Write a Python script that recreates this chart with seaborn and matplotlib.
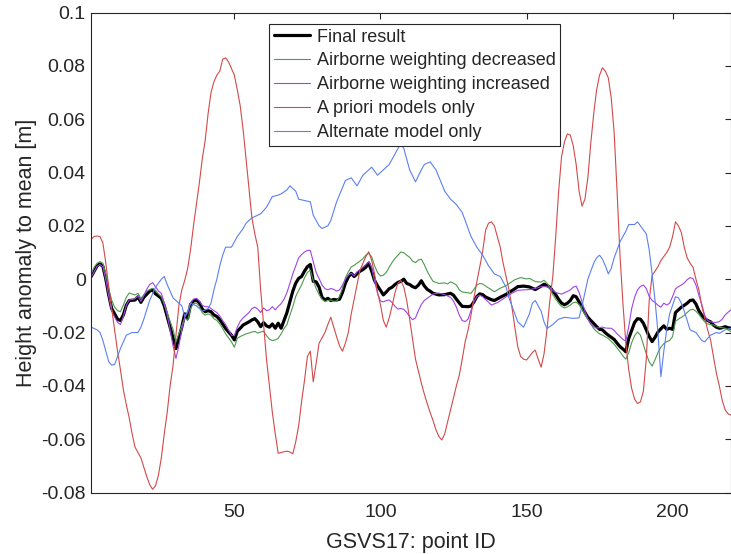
import matplotlib
matplotlib.use("Agg")
import matplotlib.pyplot as plt
import seaborn as sns
import pandas as pd

# ---- data: GSVS17 height anomalies relative to the mean [m] ----
final_pid = [1, 2, 3, 4, 5, 6, 7, 8, 9, 10, 11, 12, 13, 14, 16, 17, 18, 19, 21, 22, 23, 24, 25, 26, 27, 28, 29, 30,
             31, 32, 33, 34, 35, 36, 37, 38, 39, 40, 41, 42, 43, 44, 45, 46, 47, 48, 49, 50, 51, 52, 53, 54, 55, 56,
             57, 58, 59, 60, 61, 62, 63, 64, 65, 66, 67, 68, 69, 70, 71, 72, 73, 74, 75, 76, 77, 78, 79, 80, 81, 82,
             83, 84, 85, 86, 87, 88, 89, 90, 91, 92, 93, 94, 95, 96, 97, 98, 99, 100, 101, 102, 103, 104, 105, 106,
             107, 108, 109, 110, 111, 112, 113, 114, 115, 116, 117, 118, 120, 122, 124, 125, 126, 127, 128, 130, 131,
             132, 133, 134, 135, 136, 138, 139, 141, 143, 144, 146, 147, 149, 151, 153, 155, 156, 157, 158, 159, 160,
             161, 162, 163, 164, 165, 166, 167, 168, 169, 170, 171, 172, 173, 174, 175, 176, 177, 178, 179, 180, 181,
             182, 183, 184, 185, 186, 187, 188, 189, 190, 191, 192, 193, 194, 195, 196, 197, 198, 199, 200, 201, 202,
             203, 204, 205, 206, 207, 208, 209, 210, 211, 212, 213, 214, 215, 216, 217, 218, 219, 220]
final_val = [0.001, 0.003, 0.005, 0.0057, 0.0048, 0.0, -0.006, -0.011, -0.013, -0.015, -0.0155, -0.0134, -0.0098,
             -0.008, -0.0078, -0.0066, -0.0087, -0.0068, -0.0045, -0.004, -0.0055, -0.0063, -0.0072, -0.010, -0.014,
             -0.018, -0.022, -0.026, -0.022, -0.018, -0.013, -0.0147, -0.0095, -0.0082, -0.0078, -0.0088, -0.0112,
             -0.0122, -0.0118, -0.0122, -0.0134, -0.014, -0.0152, -0.0168, -0.0185, -0.0198, -0.021, -0.0228, -0.0195,
             -0.0184, -0.0172, -0.0166, -0.016, -0.0153, -0.0148, -0.016, -0.0178, -0.0163, -0.0175, -0.018, -0.0168,
             -0.0184, -0.0165, -0.0184, -0.0155, -0.0125, -0.0085, -0.0045, -0.0015, 0.0003, 0.001, 0.003, 0.0047,
             0.0055, -0.0008, -0.001, -0.003, -0.0068, -0.0078, -0.0072, -0.008, -0.0076, -0.0078, -0.0075, -0.005,
             -0.0015, 0.0008, 0.0022, 0.001, 0.002, 0.003, 0.0036, 0.0045, 0.006, 0.003, -0.0005, -0.0025, -0.0042,
             -0.0059, -0.0048, -0.0036, -0.003, -0.002, -0.0012, -0.0008, 0.0, -0.0016, -0.002, -0.0028, -0.0032,
             -0.0022, -0.0006, -0.0025, -0.0038, -0.0045, -0.0053, -0.0059, -0.0058, -0.0053, -0.006, -0.0075, -0.0089,
             -0.0102, -0.0103, -0.0101, -0.0085, -0.0065, -0.0055, -0.0058, -0.0067, -0.0077, -0.008, -0.0068, -0.0057,
             -0.005, -0.0036, -0.0028, -0.0026, -0.0029, -0.0039, -0.0026, -0.0019, -0.0024, -0.003, -0.0045, -0.0058,
             -0.0076, -0.009, -0.0096, -0.009, -0.008, -0.0062, -0.0066, -0.0085, -0.0105, -0.0125, -0.0143, -0.0155,
             -0.0166, -0.0178, -0.0188, -0.019, -0.0201, -0.021, -0.0218, -0.0226, -0.024, -0.0253, -0.0262, -0.0272,
             -0.0222, -0.0192, -0.0162, -0.0148, -0.015, -0.0165, -0.019, -0.0215, -0.0234, -0.0218, -0.0198, -0.0186,
             -0.0175, -0.0188, -0.0184, -0.0188, -0.0125, -0.0115, -0.0105, -0.0098, -0.009, -0.008, -0.0078, -0.0093,
             -0.0118, -0.0135, -0.0148, -0.0155, -0.016, -0.0172, -0.018, -0.0184, -0.0182, -0.0178, -0.0182, -0.0184]

decr_pid = [1, 2, 3, 4, 5, 6, 7, 8, 9, 10, 11, 12, 13, 14, 16, 17, 18, 19, 20, 22, 23, 24, 25, 26, 27, 28, 29, 30, 31,
            32, 33, 34, 35, 36, 37, 38, 39, 40, 41, 42, 43, 44, 45, 46, 47, 48, 49, 50, 51, 52, 53, 54, 55, 56, 57, 58,
            59, 60, 61, 62, 63, 64, 65, 66, 67, 68, 69, 70, 71, 72, 73, 74, 75, 76, 77, 78, 79, 80, 81, 82, 83, 84, 85,
            86, 87, 88, 89, 90, 91, 92, 93, 94, 95, 96, 97, 98, 99, 100, 101, 102, 103, 104, 105, 106, 107, 108, 109,
            110, 111, 112, 113, 114, 115, 116, 117, 118, 120, 122, 123, 124, 125, 126, 127, 128, 130, 131, 132, 133,
            134, 135, 136, 138, 139, 141, 143, 144, 146, 148, 150, 151, 153, 155, 156, 157, 158, 159, 160, 161, 162,
            163, 164, 165, 166, 167, 168, 169, 170, 171, 172, 173, 174, 175, 176, 177, 178, 179, 180, 181, 182, 183,
            184, 185, 186, 187, 188, 189, 190, 191, 192, 193, 194, 195, 196, 197, 198, 199, 200, 201, 202, 203, 204,
            205, 206, 207, 208, 209, 210, 211, 212, 214, 216, 218, 220]
decr_val = [0.002, 0.0045, 0.006, 0.0066, 0.006, 0.002, -0.0035, -0.0078, -0.0105, -0.0118, -0.0122, -0.0097, -0.0068,
            -0.0052, -0.0059, -0.0053, -0.0072, -0.0058, -0.0045, -0.0034, -0.0042, -0.0055, -0.0066, -0.0095, -0.0125,
            -0.0158, -0.0188, -0.0235, -0.0205, -0.0175, -0.0145, -0.0155, -0.011, -0.0092, -0.009, -0.0102, -0.0126,
            -0.0135, -0.013, -0.0135, -0.0148, -0.0155, -0.0168, -0.0185, -0.0205, -0.022, -0.0235, -0.0255, -0.0222,
            -0.0215, -0.021, -0.0205, -0.0202, -0.0198, -0.0196, -0.0202, -0.0198, -0.0195, -0.0212, -0.0225, -0.023,
            -0.0228, -0.0222, -0.0205, -0.0185, -0.017, -0.0135, -0.0103, -0.0065, -0.0042, -0.0022, 0.0005, 0.0025,
            0.0034, -0.0005, -0.0035, -0.0058, -0.0075, -0.0084, -0.008, -0.0078, -0.0083, -0.0082, -0.0065, -0.0035,
            0.0005, 0.0027, 0.0046, 0.0052, 0.006, 0.0068, 0.0077, 0.009, 0.0097, 0.0084, 0.005, 0.0025, 0.0012, 0.0015,
            0.0026, 0.0045, 0.0063, 0.0078, 0.009, 0.0102, 0.0099, 0.009, 0.0082, 0.0068, 0.0062, 0.0072, 0.0075,
            0.0055, 0.003, 0.001, -0.0008, -0.0016, -0.0014, -0.0018, -0.001, -0.0015, -0.0022, -0.004, -0.0048,
            -0.0051, -0.0053, -0.0038, -0.0022, -0.0016, -0.0018, -0.0026, -0.004, -0.0047, -0.0034, -0.0024, -0.0017,
            -0.0002, 0.0006, 0.0001, 0.0003, -0.0009, -0.0011, -0.0004, -0.0015, -0.003, -0.0058, -0.0075, -0.009,
            -0.0102, -0.0108, -0.0104, -0.0097, -0.0088, -0.0086, -0.0095, -0.0112, -0.0133, -0.015, -0.0168, -0.0185,
            -0.0196, -0.0205, -0.021, -0.0216, -0.0223, -0.0233, -0.0244, -0.0258, -0.0272, -0.0288, -0.030, -0.0275,
            -0.0238, -0.0212, -0.0198, -0.021, -0.0245, -0.028, -0.031, -0.0326, -0.0302, -0.0275, -0.0255, -0.0242,
            -0.0234, -0.023, -0.0215, -0.0158, -0.015, -0.0143, -0.0136, -0.0125, -0.0115, -0.0113, -0.012, -0.0132,
            -0.0147, -0.016, -0.0168, -0.0172, -0.018, -0.0184, -0.0197]

incr_pid = [1, 2, 3, 4, 5, 6, 7, 8, 9, 10, 11, 12, 13, 14, 16, 17, 18, 19, 20, 21, 22, 23, 24, 25, 26, 27, 28, 29, 30,
            31, 32, 33, 34, 35, 36, 37, 38, 39, 40, 41, 42, 43, 44, 45, 46, 47, 48, 49, 50, 51, 52, 53, 54, 55, 56, 57,
            58, 59, 60, 61, 62, 63, 64, 65, 66, 67, 68, 69, 70, 71, 72, 73, 74, 75, 76, 77, 78, 79, 80, 81, 82, 83, 84,
            85, 86, 87, 88, 89, 90, 91, 92, 93, 94, 95, 96, 97, 98, 99, 100, 101, 102, 103, 104, 105, 106, 107, 108,
            109, 110, 111, 112, 113, 114, 115, 116, 117, 118, 120, 122, 124, 125, 126, 127, 128, 129, 130, 131, 132,
            133, 134, 135, 136, 138, 140, 142, 143, 145, 147, 149, 151, 153, 155, 157, 158, 159, 160, 161, 162, 164,
            165, 166, 167, 168, 169, 170, 171, 172, 173, 174, 175, 176, 177, 178, 179, 180, 181, 182, 183, 184, 185,
            186, 187, 188, 189, 190, 191, 192, 193, 194, 195, 196, 197, 198, 199, 200, 201, 202, 203, 204, 205, 206,
            207, 208, 209, 210, 211, 212, 213, 214, 215, 216, 217, 218, 219, 220]
incr_val = [0.0008, 0.0028, 0.0048, 0.0055, 0.0046, -0.0003, -0.0065, -0.0118, -0.0142, -0.0162, -0.017, -0.014,
            -0.0098, -0.0078, -0.0074, -0.0062, -0.0083, -0.0062, -0.0038, -0.002, -0.0013, -0.0028, -0.0044, -0.0053,
            -0.009, -0.0135, -0.019, -0.025, -0.0297, -0.025, -0.019, -0.0143, -0.0125, -0.009, -0.0075, -0.0072,
            -0.0082, -0.0098, -0.0103, -0.0103, -0.011, -0.0118, -0.0125, -0.0138, -0.0155, -0.017, -0.019, -0.021,
            -0.0212, -0.018, -0.0158, -0.0145, -0.0135, -0.0125, -0.011, -0.0105, -0.0112, -0.0125, -0.0108, -0.0118,
            -0.0115, -0.0103, -0.0115, -0.0102, -0.0092, -0.0075, -0.005, -0.0016, 0.002, 0.005, 0.008, 0.0092, 0.0102,
            0.0108, 0.0108, 0.0065, 0.0025, 0.0002, -0.0022, -0.0035, -0.004, -0.0035, -0.0038, -0.0045, -0.004,
            -0.0022, 0.0, 0.0015, 0.0022, 0.0012, 0.0028, 0.0035, 0.0046, 0.0055, 0.0066, 0.0045, -0.0008, -0.0052,
            -0.0082, -0.0085, -0.008, -0.0078, -0.0088, -0.0102, -0.0112, -0.011, -0.0113, -0.0125, -0.014, -0.0152,
            -0.0145, -0.0118, -0.0095, -0.008, -0.0072, -0.0064, -0.0056, -0.0052, -0.0058, -0.0068, -0.0082, -0.0105,
            -0.0135, -0.0155, -0.0159, -0.015, -0.0118, -0.0085, -0.0065, -0.006, -0.0066, -0.0076, -0.0097, -0.0088,
            -0.0074, -0.0066, -0.0053, -0.0042, -0.004, -0.0039, -0.0035, -0.0028, -0.0028, -0.0034, -0.0042, -0.005,
            -0.0053, -0.0056, -0.0046, -0.004, -0.003, -0.0026, -0.005, -0.0084, -0.012, -0.015, -0.0168, -0.0178,
            -0.0184, -0.0181, -0.018, -0.0183, -0.0184, -0.0184, -0.0192, -0.0205, -0.0215, -0.0226, -0.0232, -0.0178,
            -0.011, -0.0068, -0.004, -0.0027, -0.0022, -0.0035, -0.0065, -0.008, -0.0087, -0.0098, -0.0105, -0.009,
            -0.0097, -0.009, -0.0065, -0.0036, -0.0028, -0.0022, -0.0014, -0.0002, 0.0006, 0.0002, -0.0022, -0.006,
            -0.0095, -0.0135, -0.0155, -0.016, -0.0162, -0.0162, -0.0159, -0.015, -0.0134, -0.0124, -0.0115]

apriori_pid = list(range(1, 221))
apriori_val = [0.015, 0.016, 0.0162, 0.016, 0.0135, 0.006, -0.003, -0.011, -0.019, -0.027,
               -0.034, -0.0415, -0.047, -0.052, -0.058, -0.063, -0.065, -0.067, -0.0705, -0.074,
               -0.077, -0.0788, -0.0775, -0.0735, -0.067, -0.058, -0.050, -0.040, -0.0325, -0.021,
               -0.010, -0.004, -0.0005, 0.004, 0.011, 0.020, 0.028, 0.036, 0.045, 0.052,
               0.062, 0.070, 0.074, 0.0765, 0.078, 0.0825, 0.083, 0.0815, 0.079, 0.0765,
               0.071, 0.065, 0.056, 0.045, 0.034, 0.023, 0.017, 0.012, -0.004, -0.017,
               -0.030, -0.040, -0.050, -0.058, -0.0653, -0.065, -0.0647, -0.0645, -0.0648, -0.0655,
               -0.061, -0.055, -0.046, -0.038, -0.029, -0.027, -0.0385, -0.0315, -0.024, -0.022,
               -0.020, -0.017, -0.0143, -0.018, -0.0216, -0.025, -0.027, -0.024, -0.020, -0.013,
               -0.0075, -0.002, 0.0034, 0.006, 0.0085, 0.0103, 0.007, 0.002, -0.005, -0.0095,
               -0.0155, -0.018, -0.0145, -0.010, -0.005, -0.0015, -0.0005, -0.003, -0.008, -0.015,
               -0.0225, -0.030, -0.0345, -0.039, -0.043, -0.0466, -0.050, -0.053, -0.0565, -0.059,
               -0.0603, -0.058, -0.0535, -0.049, -0.0445, -0.040, -0.036, -0.030, -0.0235, -0.019,
               -0.0135, -0.007, -0.001, 0.0046, 0.0105, 0.0184, 0.021, 0.0215, 0.020, 0.016,
               0.012, 0.006, 0.001, -0.004, -0.0104, -0.018, -0.0253, -0.029, -0.030, -0.0303,
               -0.029, -0.0275, -0.0266, -0.030, -0.033, -0.028, -0.019, -0.008, 0.001, 0.016,
               0.033, 0.046, 0.0515, 0.0545, 0.054, 0.050, 0.043, 0.033, 0.0274, 0.030,
               0.038, 0.051, 0.062, 0.071, 0.0765, 0.0793, 0.078, 0.0755, 0.068, 0.055,
               0.033, 0.009, -0.009, -0.024, -0.034, -0.041, -0.045, -0.0466, -0.046, -0.042,
               -0.030, -0.008, 0.0015, 0.003, 0.0047, 0.007, 0.0085, 0.010, 0.012, 0.016,
               0.0215, 0.020, 0.0175, 0.012, 0.008, 0.006, 0.0045, 0.000, -0.004, -0.010,
               -0.0145, -0.019, -0.0228, -0.029, -0.0353, -0.040, -0.0455, -0.049, -0.0505, -0.051]

altern_pid = [1, 3, 4, 5, 6, 7, 8, 9, 10, 11, 13, 15, 17, 18, 19, 21, 23, 25, 26, 27, 29, 30, 32, 33, 34, 35, 37, 39,
              41, 42, 43, 44, 45, 46, 47, 49, 51, 53, 54, 56, 58, 59, 61, 63, 65, 66, 68, 69, 71, 72, 74, 76, 77, 79,
              80, 82, 83, 85, 88, 90, 92, 94, 96, 97, 99, 101, 103, 105, 107, 108, 110, 112, 114, 115, 117, 119, 122,
              124, 126, 128, 131, 133, 135, 137, 139, 141, 143, 144, 146, 147, 149, 151, 152, 153, 155, 156, 157, 159,
              161, 163, 166, 168, 169, 170, 171, 173, 174, 175, 176, 177, 178, 179, 180, 182, 184, 185, 187, 188, 189,
              191, 192, 193, 194, 195, 196, 197, 198, 199, 201, 202, 203, 204, 206, 208, 210, 211, 213, 215, 216, 218,
              220]
altern_val = [-0.018, -0.019, -0.020, -0.023, -0.027, -0.031, -0.0322, -0.032, -0.029, -0.026, -0.021, -0.020, -0.020,
              -0.018, -0.015, -0.008, -0.003, 0.0, 0.001, -0.002, -0.007, -0.008, -0.010, -0.014, -0.012, -0.009,
              -0.010, -0.012, -0.011, -0.009, -0.004, 0.0, 0.005, 0.009, 0.012, 0.012, 0.016, 0.019, 0.021, 0.023,
              0.024, 0.0245, 0.027, 0.031, 0.0315, 0.032, 0.0335, 0.035, 0.033, 0.030, 0.0295, 0.029, 0.024, 0.020,
              0.019, 0.020, 0.022, 0.029, 0.037, 0.038, 0.035, 0.039, 0.041, 0.042, 0.039, 0.041, 0.043, 0.047, 0.051,
              0.049, 0.041, 0.0365, 0.041, 0.043, 0.044, 0.041, 0.033, 0.030, 0.028, 0.025, 0.016, 0.012, 0.009, 0.005,
              0.002, 0.001, -0.003, -0.007, -0.013, -0.016, -0.018, -0.013, -0.009, -0.008, -0.012, -0.016, -0.0185,
              -0.017, -0.015, -0.0143, -0.0147, -0.0145, -0.010, -0.005, 0.0, 0.006, 0.008, 0.009, 0.0075, 0.005, 0.002,
              0.004, 0.008, 0.014, 0.018, 0.0205, 0.0205, 0.0215, 0.020, 0.017, 0.011, 0.002, -0.008, -0.020, -0.0366,
              -0.027, -0.019, -0.013, -0.0066, -0.007, -0.009, -0.012, -0.019, -0.020, -0.023, -0.0235, -0.021, -0.020,
              -0.0203, -0.019, -0.0184]

series_names = ["Final result", "Airborne weighting decreased", "Airborne weighting increased",
                "A priori models only", "Alternate model only"]
series_pid = [final_pid, decr_pid, incr_pid, apriori_pid, altern_pid]
series_val = [final_val, decr_val, incr_val, apriori_val, altern_val]

frames = [pd.DataFrame({"point": p, "anomaly": v, "series": n})
          for n, p, v in zip(series_names, series_pid, series_val)]
df = pd.concat(frames, ignore_index=True)

# ---- styling ----
sns.set_style("white")
plt.rcParams["font.family"] = ["Liberation Sans", "DejaVu Sans"]
plt.rcParams["axes.unicode_minus"] = False

colors = {"Final result": "#000000",
          "Airborne weighting decreased": "#4e9a4e",
          "Airborne weighting increased": "#a044e8",
          "A priori models only": "#d24a4a",
          "Alternate model only": "#5c80f0"}
widths = {"Final result": 2.3}

fig = plt.figure(figsize=(7.31, 5.54), dpi=100)
ax = fig.add_axes([0.1248, 0.111, 0.8752, 0.8664])

for name in series_names:
    sub = df[df["series"] == name]
    sns.lineplot(data=sub, x="point", y="anomaly", ax=ax, color=colors[name],
                 linewidth=widths.get(name, 0.8), label=name, estimator=None, sort=True)

ax.set_xlim(1, 220)
ax.set_ylim(-0.08, 0.1)
ax.set_xticks([50, 100, 150, 200])
ax.set_yticks([-0.08, -0.06, -0.04, -0.02, 0, 0.02, 0.04, 0.06, 0.08, 0.1])
ax.set_yticklabels([f"{t:g}" for t in ax.get_yticks()])

axis_col = "#262626"
for s in ax.spines.values():
    s.set_color(axis_col)
    s.set_linewidth(0.8)
    s.set_visible(True)
ax.tick_params(direction="in", length=4.3, width=0.8, top=True, right=True,
               labelsize=14, colors=axis_col, labelcolor=axis_col)
ax.tick_params(axis="x", pad=8)
ax.tick_params(axis="y", pad=4)

ax.set_xlabel("GSVS17: point ID", fontsize=15.5, color=axis_col, labelpad=8)
ax.set_ylabel("Height anomaly to mean [m]", fontsize=15.5, color=axis_col, labelpad=3)

leg = ax.legend(loc="upper left", bbox_to_anchor=(0.278, 0.976), fontsize=13, frameon=True,
                fancybox=False, edgecolor=axis_col, framealpha=1, borderpad=0.25,
                handlelength=2.0, handletextpad=0.4, labelspacing=0.38, borderaxespad=0)
leg.get_frame().set_linewidth(0.8)

fig.savefig("out.png", dpi=100)
